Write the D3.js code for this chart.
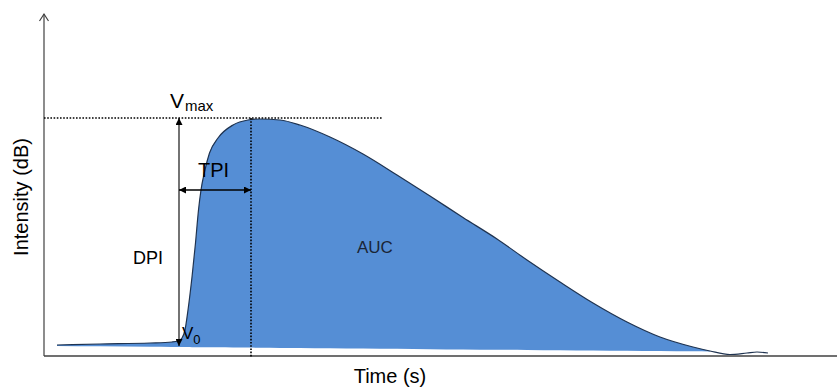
<!DOCTYPE html>
<html><head><meta charset="utf-8">
<script src="https://cdn.jsdelivr.net/npm/d3@7"></script>
<style>body{margin:0;background:#fff}svg{display:block}</style>
</head><body><svg id="c" width="837" height="388"></svg>
<script>
// ---- data (time in s, intensity in dB, arbitrary units) ----
const timeS = [1.3, 5.6, 10.6, 12.8, 13.4, 13.8, 14.1, 14.4, 14.8, 15.15, 15.45, 15.7, 16.05, 16.55, 17.4, 18.9, 20.4, 21.6, 23.6, 25.6, 28.6, 31.9, 35.3, 38.6, 41.9, 45.3, 48.3, 51.6, 54.9, 58.3, 61.6, 64.9, 66.6, 68.6, 70.3, 71.3, 72.4];
const intensityDB = [1.1, 1.2, 1.3, 1.4, 1.5, 1.8, 2.6, 4.6, 7.9, 11.3, 14.6, 16.6, 18.4, 20.3, 21.8, 23.1, 23.6, 23.7, 23.6, 23.1, 21.9, 20.2, 18.1, 16.0, 13.85, 11.7, 9.6, 7.4, 5.3, 3.4, 1.9, 0.9, 0.5, 0.15, 0.3, 0.4, 0.3];
const baselineT = [1.3, 66.6];
const baselineDB = [1.0, 0.45];
const fillEndT = 66.6;
const vmaxDB = 23.8;
const v0DB = 1.0;
const dpiT = 13.5;
const tpiEndT = 20.7;
const tpiArrowDB = 16.6;
const vmaxLineEndT = 33.9;

const svg = d3.select("#c");
const x = d3.scaleLinear().domain([0, 79.3]).range([44, 837]);
const y = d3.scaleLinear().domain([0, 34.4]).range([356, 12]);
const base = d3.scaleLinear().domain(baselineT).range(baselineDB);

const pts = timeS.map((t, i) => ({t, v: intensityDB[i]}));
const fillPts = pts.filter(d => d.t <= fillEndT);

const defs = svg.append("defs");
defs.append("marker").attr("id", "ah").attr("viewBox", "0 0 10 10")
  .attr("refX", 10).attr("refY", 5).attr("markerWidth", 8).attr("markerHeight", 7)
  .attr("markerUnits", "userSpaceOnUse").attr("orient", "auto-start-reverse")
  .append("path").attr("d", "M0,0L10,5L0,10Z").attr("fill", "#000");

// area
svg.append("path").datum(fillPts)
  .attr("d", d3.area().x(d => x(d.t)).y0(d => y(base(d.t))).y1(d => y(d.v)).curve(d3.curveMonotoneX))
  .attr("fill", "#558ed5");
svg.append("path").datum(pts)
  .attr("d", d3.line().x(d => x(d.t)).y(d => y(d.v)).curve(d3.curveMonotoneX))
  .attr("fill", "none").attr("stroke", "#1f3350").attr("stroke-width", 1.2);

// axes
svg.append("line").attr("x1", x(0)).attr("x2", 837).attr("y1", y(0)).attr("y2", y(0))
  .attr("stroke", "#404040").attr("stroke-width", 1.4);
svg.append("line").attr("x1", x(0)).attr("x2", x(0)).attr("y1", y(0)).attr("y2", y(34.2))
  .attr("stroke", "#404040").attr("stroke-width", 1.2);
svg.append("path").attr("d", `M${x(0)-4.5},${y(34.2)+7}L${x(0)},${y(34.2)}L${x(0)+4.5},${y(34.2)+7}`)
  .attr("fill", "none").attr("stroke", "#404040").attr("stroke-width", 1.2);

// dotted lines
svg.append("line").attr("x1", x(0)).attr("x2", x(vmaxLineEndT)).attr("y1", y(vmaxDB)).attr("y2", y(vmaxDB))
  .attr("stroke", "#000").attr("stroke-width", 1.6).attr("stroke-dasharray", "1.6,1.6");
svg.append("line").attr("x1", x(tpiEndT)).attr("x2", x(tpiEndT)).attr("y1", y(vmaxDB)).attr("y2", y(-0.2))
  .attr("stroke", "#000").attr("stroke-width", 1.6).attr("stroke-dasharray", "1.6,1.6");

// DPI arrow
svg.append("line").attr("x1", x(dpiT)).attr("x2", x(dpiT)).attr("y1", y(v0DB)).attr("y2", y(vmaxDB))
  .attr("stroke", "#000").attr("stroke-width", 1.1)
  .attr("marker-start", "url(#ah)").attr("marker-end", "url(#ah)");
// TPI arrow
svg.append("line").attr("x1", x(dpiT)).attr("x2", x(tpiEndT)).attr("y1", y(tpiArrowDB)).attr("y2", y(tpiArrowDB))
  .attr("stroke", "#000").attr("stroke-width", 1.4)
  .attr("marker-start", "url(#ah)").attr("marker-end", "url(#ah)");

const font = "Liberation Sans, Arial, sans-serif";
function label(tx, ty, txt, size, anchor, color) {
  return svg.append("text").attr("x", tx).attr("y", ty).attr("font-family", font)
    .attr("font-size", size).attr("text-anchor", anchor || "start").attr("fill", color || "#000").text(txt);
}
// Vmax
const vm = label(x(12.6), y(vmaxDB) - 10, "V", 21);
vm.append("tspan").attr("font-size", 15).attr("dy", 3).attr("dx", 1).text("max");
// V0
const v0 = label(x(13.8), y(v0DB) - 7, "V", 17);
v0.append("tspan").attr("font-size", 13).attr("dy", 5).attr("dx", 0).text("0");
label(x(15.4), y(tpiArrowDB) - 13, "TPI", 20);
label(x(8.9), y(9.2), "DPI", 18);
label(x(31.3), y(10.3), "AUC", 17, "start", "#1a2535");
label(390, 383, "Time (s)", 20, "middle");
svg.append("text").attr("transform", "translate(28,197) rotate(-90)")
  .attr("font-family", font).attr("font-size", 20).attr("text-anchor", "middle").text("Intensity (dB)");
</script></body></html>
